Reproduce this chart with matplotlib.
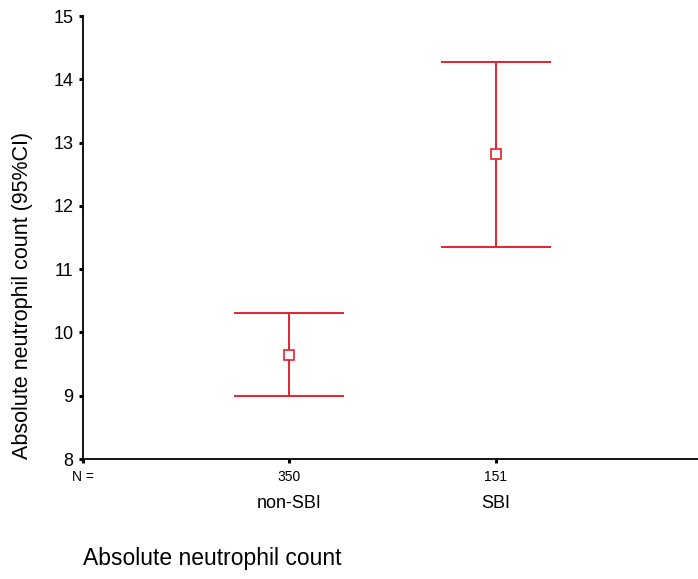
import numpy as np
import matplotlib.pyplot as plt
from matplotlib import transforms

plt.rcParams['font.family'] = ['Liberation Sans', 'DejaVu Sans']

groups = ["non-SBI", "SBI"]
n_counts = ["350", "151"]
means = [9.65, 12.82]
ci_low = [8.99, 11.35]
ci_high = [10.31, 14.28]

red = "#e5222c"
x = np.arange(1, len(groups) + 1)

fig = plt.figure(figsize=(6.98, 5.79), dpi=100)
ax = fig.add_axes([83 / 698, 1 - 459 / 579, 1 - 83 / 698, (459 - 16) / 579])

# confidence interval stems and caps
ax.vlines(x, ci_low, ci_high, color=red, lw=1.4)
ax.hlines(ci_low, x - 0.265, x + 0.265, color=red, lw=1.4)
ax.hlines(ci_high, x - 0.265, x + 0.265, color=red, lw=1.4)
ax.plot(x, means, ls="none", marker="s", ms=7.5, mfc="white", mec=red, mew=1.2)

x0 = 0.005
ax.set_xlim(x0, x0 + (698 - 83) / 207)
ax.set_ylim(8, 15)
ax.set_yticks(range(8, 16))
ax.set_xticks([x0] + list(x))
ax.set_xticklabels(["N ="] + n_counts, fontsize=10)
ax.tick_params(axis="y", direction="out", length=3, width=2.2, labelsize=13, pad=4)
ax.tick_params(axis="x", direction="out", length=3, width=2.2, pad=5)

for side in ["top", "right"]:
    ax.spines[side].set_visible(False)
for side in ["left", "bottom"]:
    ax.spines[side].set_linewidth(1.3)

ax.set_ylabel("Absolute neutrophil count (95%CI)", fontsize=15.5)
ax.yaxis.set_label_coords(-50 / 615, 0.37)

# group names under the N counts
trans = transforms.blended_transform_factory(ax.transData, fig.transFigure)
for xi, name in zip(x, groups):
    ax.text(xi, 1 - 504 / 579, name, transform=trans, ha="center", va="center",
            fontsize=13)

fig.text(83 / 698, 1 - 559 / 579, "Absolute neutrophil count", ha="left",
         va="center", fontsize=16.5)

fig.savefig("out.png", dpi=100)
